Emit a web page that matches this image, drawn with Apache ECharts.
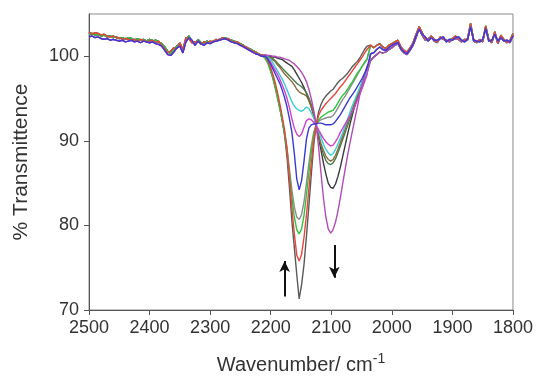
<!DOCTYPE html>
<html>
<head>
<meta charset="utf-8">
<script src="https://cdn.jsdelivr.net/npm/echarts@6.0.0/dist/echarts.min.js"></script>
<style>
  html, body { margin: 0; padding: 0; background: #fff; }
  #chart { width: 536px; height: 381px; }
</style>
</head>
<body>
<div id="chart"></div>
<script>
// wavenumber grids (cm-1)
const leftWn = [2500, 2495, 2490, 2485, 2480, 2475, 2470, 2465, 2460, 2455, 2450, 2445, 2440, 2435, 2430, 2425, 2420, 2415, 2410, 2405,
  2400, 2395, 2390, 2385, 2380, 2375, 2370, 2365, 2360, 2355, 2350, 2345, 2340, 2335, 2330, 2325, 2320, 2315, 2310, 2305,
  2300, 2295, 2290, 2285, 2280, 2275, 2270, 2265, 2260, 2255, 2250, 2245, 2240, 2235, 2230, 2225, 2220, 2215];
const bandWn = [2213, 2209, 2205, 2201, 2197, 2193, 2189, 2185, 2181, 2177, 2173, 2169, 2165, 2161, 2157, 2153, 2149, 2145, 2141, 2137,
  2133, 2129, 2125, 2121, 2117, 2113, 2109, 2105, 2101, 2097, 2093, 2089, 2085, 2081, 2077, 2073, 2069, 2065, 2061, 2057,
  2053, 2049, 2045, 2041];
const rightWn = [2035, 2030, 2025, 2020, 2015, 2010, 2005, 2000, 1995, 1990, 1985, 1980, 1975, 1970, 1965, 1960, 1955, 1950, 1945, 1940,
  1935, 1930, 1925, 1920, 1915, 1910, 1905, 1900, 1895, 1890, 1885, 1880, 1875, 1870, 1865, 1860, 1855, 1850, 1845, 1840,
  1835, 1830, 1825, 1820, 1815, 1810, 1805, 1800];

// baseline (wing) traces, % transmittance
const leftWing1 = [102.6, 102.7, 102.5, 102.6, 102.4, 102.5, 102.3, 102.4, 102.2, 102.3, 102.1, 102.2, 102.0, 102.2, 102.1, 101.9, 102.1, 101.9, 102.0, 101.8,
  102.0, 101.8, 101.9, 101.7, 101.5, 101.1, 100.6, 100.3, 100.8, 101.2, 101.5, 100.6, 101.9, 102.4, 101.8, 101.4, 102.0, 101.6, 101.5, 101.8,
  101.6, 101.8, 101.9, 102.0, 102.1, 102.2, 102.0, 101.9, 101.8, 101.6, 101.5, 101.3, 101.0, 100.9, 100.7, 100.5, 100.3, 100.1];
const leftWing2 = [102.9, 102.6, 102.8, 102.7, 102.5, 102.6, 102.4, 102.3, 102.4, 102.2, 102.2, 102.0, 102.1, 102.0, 101.9, 102.0, 101.8, 102.0, 101.9, 101.7,
  101.8, 101.9, 101.6, 101.8, 101.3, 100.9, 100.4, 100.6, 101.0, 100.9, 101.6, 100.8, 102.2, 102.1, 101.6, 101.7, 101.8, 101.4, 101.7, 101.6,
  101.8, 101.7, 102.0, 101.9, 102.2, 102.0, 102.1, 101.8, 101.7, 101.7, 101.4, 101.2, 101.1, 100.8, 100.6, 100.5, 100.2, 100.2];
const leftWing3 = [102.3, 102.4, 102.2, 102.3, 102.1, 102.0, 102.1, 101.9, 102.0, 101.9, 101.8, 101.9, 101.7, 101.8, 101.9, 101.7, 101.8, 101.6, 101.8, 101.7,
  101.6, 101.7, 101.5, 101.4, 101.2, 100.7, 100.2, 100.1, 100.5, 101.0, 101.2, 100.4, 101.7, 102.2, 101.9, 101.3, 101.8, 101.5, 101.3, 101.6,
  101.5, 101.7, 101.8, 101.9, 102.0, 102.1, 101.9, 101.7, 101.6, 101.5, 101.3, 101.1, 100.9, 100.7, 100.5, 100.3, 100.2, 100.0];
const rightWing1 = [101.3, 101.0, 101.3, 101.5, 101.1, 100.9, 101.3, 101.5, 101.7, 101.9, 101.1, 100.7, 100.5, 101.0, 101.6, 102.6, 103.5, 102.8, 102.1, 101.9,
  102.4, 102.0, 101.7, 102.3, 102.1, 101.8, 101.9, 102.1, 102.4, 102.1, 101.8, 101.9, 102.1, 103.9, 102.0, 101.7, 101.9, 101.8, 103.6, 102.0,
  101.7, 102.9, 101.6, 102.5, 102.0, 101.6, 101.9, 102.7];
const rightWing2 = [100.3, 100.4, 100.8, 101.1, 100.8, 100.7, 101.0, 101.3, 101.5, 101.6, 100.9, 100.5, 100.3, 100.8, 101.4, 102.4, 103.2, 102.6, 102.3, 101.8,
  102.2, 101.9, 101.9, 102.1, 102.3, 101.7, 102.0, 101.9, 102.2, 102.3, 101.9, 101.7, 102.0, 103.5, 101.9, 101.8, 101.7, 102.0, 103.3, 101.8,
  101.9, 102.6, 101.8, 102.2, 101.8, 101.9, 101.7, 102.4];
const rightWing3 = [99.5, 99.9, 100.2, 100.5, 100.4, 100.5, 100.8, 101.0, 101.3, 101.5, 100.8, 100.4, 100.2, 100.7, 101.3, 102.2, 103.3, 102.5, 101.9, 102.1,
  102.3, 101.8, 101.6, 102.2, 102.0, 101.9, 101.7, 102.0, 102.1, 102.0, 101.7, 102.0, 101.9, 103.6, 101.8, 101.6, 102.0, 101.7, 103.4, 101.9,
  101.6, 102.7, 101.5, 102.3, 101.9, 101.8, 101.6, 102.5];

// band region (2213-2041 cm-1), one trace per spectrum
const bandA = [100.2, 99.9, 99.4, 98.6, 97.7, 96.6, 95.4, 94.0, 92.4, 90.6, 88.0, 84.4, 80.5, 77.4, 74.2, 71.3, 73.0, 75.4, 78.7, 82.3,
  86.0, 89.5, 91.9, 93.4, 94.3, 94.9, 95.3, 95.6, 95.9, 96.1, 96.5, 96.9, 97.2, 97.4, 97.7, 98.0, 98.4, 98.8, 99.1, 99.4,
  99.8, 100.3, 100.8, 101.2];
const bandB = [100.3, 100.0, 99.6, 98.9, 98.0, 97.0, 95.8, 94.4, 92.9, 91.2, 89.0, 85.5, 82.0, 79.0, 76.5, 75.8, 76.6, 78.6, 81.2, 84.3,
  87.3, 90.0, 91.9, 93.0, 93.6, 94.0, 94.4, 94.7, 95.0, 95.3, 95.6, 96.0, 96.4, 96.7, 97.1, 97.5, 97.9, 98.3, 98.7, 99.1,
  99.5, 99.9, 100.4, 100.8];
const bandC = [100.1, 99.8, 99.3, 98.5, 97.6, 96.5, 95.2, 93.8, 92.4, 90.8, 88.8, 86.0, 83.3, 81.0, 79.5, 79.0, 79.6, 81.2, 83.6, 86.2,
  88.7, 90.7, 91.9, 92.5, 92.8, 93.0, 93.2, 93.4, 93.5, 93.6, 94.0, 94.5, 95.0, 95.4, 95.7, 96.1, 96.6, 97.0, 97.5, 98.0,
  98.4, 98.8, 99.3, 99.7];
const bandD = [100.0, 99.7, 99.2, 98.4, 97.5, 96.4, 95.1, 93.8, 92.5, 91.0, 89.1, 86.6, 84.2, 82.2, 81.0, 80.7, 81.3, 82.8, 85.0, 87.3,
  89.4, 91.0, 91.9, 92.3, 92.5, 92.6, 92.7, 92.8, 92.8, 93.0, 93.4, 93.9, 94.4, 94.9, 95.3, 95.8, 96.3, 96.8, 97.3, 97.8,
  98.3, 98.8, 99.2, 99.6];
const bandE = [100.2, 100.0, 99.7, 99.2, 98.6, 98.0, 97.4, 96.8, 96.0, 95.1, 94.0, 92.6, 91.0, 88.5, 85.5, 84.2, 85.3, 87.6, 90.2, 91.5,
  91.9, 92.0, 92.0, 92.1, 92.1, 92.0, 91.9, 91.9, 91.9, 92.0, 92.3, 92.7, 93.1, 93.6, 94.1, 94.6, 95.1, 95.5, 95.9, 96.4,
  96.9, 97.4, 98.0, 98.6];
const bandF = [100.1, 100.0, 99.8, 99.4, 98.9, 98.4, 97.9, 97.3, 96.6, 95.9, 95.0, 93.9, 92.6, 91.5, 90.8, 90.5, 90.8, 91.6, 92.4, 92.6,
  92.5, 92.2, 91.8, 91.3, 90.8, 90.3, 89.9, 89.6, 89.4, 89.5, 89.9, 90.4, 91.0, 91.5, 92.0, 92.5, 93.0, 93.5, 94.1, 94.8,
  95.5, 96.2, 97.0, 97.8];
const bandG = [100.2, 100.1, 99.9, 99.7, 99.3, 98.8, 98.3, 97.8, 97.3, 96.7, 96.0, 95.3, 94.6, 94.1, 93.8, 93.6, 93.5, 93.7, 94.0, 93.8,
  93.3, 92.7, 92.0, 91.2, 90.4, 89.6, 89.0, 88.6, 88.3, 88.5, 89.0, 89.6, 90.3, 91.0, 91.8, 92.6, 93.4, 94.2, 94.9, 95.6,
  96.3, 97.0, 97.6, 98.2];
const bandH = [100.1, 100.0, 99.9, 99.8, 99.6, 99.4, 99.0, 98.7, 98.3, 97.9, 97.6, 97.3, 97.0, 96.6, 96.1, 95.8, 95.6, 95.5, 95.3, 94.8,
  94.1, 93.1, 91.9, 90.7, 89.7, 88.9, 88.2, 87.8, 87.6, 87.8, 88.3, 89.0, 89.8, 90.6, 91.4, 92.2, 93.0, 93.8, 94.6, 95.4,
  96.1, 96.8, 97.5, 98.1];
const bandI = [100.2, 100.1, 100.0, 99.9, 99.8, 99.5, 99.2, 98.9, 98.6, 98.3, 98.0, 97.7, 97.4, 97.1, 96.8, 96.6, 96.4, 96.1, 95.7, 95.1,
  94.3, 93.3, 92.0, 90.6, 89.4, 88.4, 87.7, 87.3, 87.2, 87.4, 87.9, 88.6, 89.4, 90.2, 91.0, 91.8, 92.6, 93.4, 94.2, 95.0,
  95.8, 96.6, 97.3, 98.0];
const bandJ = [100.1, 100.1, 100.0, 100.0, 99.9, 99.9, 99.8, 99.7, 99.6, 99.4, 99.2, 99.0, 98.8, 98.4, 97.9, 97.4, 96.9, 96.3, 95.6, 94.8,
  94.0, 93.0, 91.8, 90.4, 88.9, 87.4, 86.1, 85.0, 84.5, 84.4, 84.9, 85.8, 86.9, 88.2, 89.5, 90.8, 92.0, 93.1, 94.2, 95.2,
  96.1, 97.0, 97.8, 98.6];
const bandK = [100.2, 100.2, 100.1, 100.1, 100.0, 100.0, 99.9, 99.9, 99.8, 99.7, 99.6, 99.5, 99.3, 99.1, 98.8, 98.5, 98.1, 97.6, 97.0, 96.1,
  95.0, 93.6, 91.9, 89.3, 86.2, 83.3, 81.0, 79.6, 79.1, 79.5, 80.4, 81.7, 83.3, 85.0, 86.7, 88.3, 89.8, 91.2, 92.6, 94.0,
  95.4, 96.6, 97.8, 98.8];

const yTicks = [70, 80, 90, 100];
const upArrow = [[2177, 71.6], [2177, 75.8]];
const downArrow = [[2095, 77.7], [2095, 73.8]];

// spectra in drawing order: [band, left wing, right wing, colour]
const spectra = [
  [bandJ, leftWing1, rightWing3, '#3a3a3a'],
  [bandI, leftWing2, rightWing3, '#4a7a4a'],
  [bandH, leftWing2, rightWing2, '#8a6a3a'],
  [bandG, leftWing1, rightWing2, '#38cdd5'],
  [bandD, leftWing1, rightWing1, '#8d8d8d'],
  [bandA, leftWing1, rightWing1, '#5a5a5a'],
  [bandK, leftWing3, rightWing3, '#b04cb8'],
  [bandC, leftWing1, rightWing1, '#2fc43a'],
  [bandB, leftWing2, rightWing1, '#e8453c'],
  [bandF, leftWing3, rightWing2, '#d040d0'],
  [bandE, leftWing3, rightWing2, '#3a3ad0']
];

const allWn = leftWn.concat(bandWn, rightWn);

const series = spectra.map(([band, lw, rw, color]) => {
  const ys = lw.concat(band, rw);
  return {
    type: 'line',
    data: allWn.map((x, i) => [x, ys[i]]),
    showSymbol: false,
    lineStyle: { color: color, width: 1.4 },
    itemStyle: { color: color },
    silent: true
  };
});

series.push({
  type: 'line',
  data: [],
  silent: true,
  markLine: {
    silent: true,
    symbol: ['none', 'arrow'],
    symbolSize: [8, 11],
    label: { show: false },
    lineStyle: { color: '#111', width: 2, type: 'solid' },
    data: [
      [{ coord: upArrow[0] }, { coord: upArrow[1] }],
      [{ coord: downArrow[0] }, { coord: downArrow[1] }]
    ]
  }
});

const chart = echarts.init(document.getElementById('chart'));
chart.setOption({
  animation: false,
  backgroundColor: '#fff',
  grid: {
    left: 89, right: 22, top: 14, bottom: 71,
    show: true, borderColor: '#8a8a8a', borderWidth: 1
  },
  xAxis: {
    type: 'value',
    inverse: true,
    min: 1800, max: 2500, interval: 100,
    name: '{a|Wavenumber/ cm}{b|-1}',
    nameLocation: 'middle',
    nameGap: 42,
    nameTextStyle: {
      rich: {
        a: { fontFamily: 'Liberation Sans', fontSize: 20, color: '#333' },
        b: { fontFamily: 'Liberation Sans', fontSize: 14, color: '#333', padding: [0, 0, 12, 0] }
      }
    },
    axisLine: { lineStyle: { color: '#555', width: 1 } },
    axisTick: { inside: false, length: 5, lineStyle: { color: '#555' } },
    axisLabel: {
      fontFamily: 'Liberation Sans', fontSize: 18, color: '#333', margin: 9,
      formatter: v => String(v)
    },
    splitLine: { show: false }
  },
  yAxis: {
    type: 'value',
    min: 70, max: 105,
    name: '% Transmittence',
    nameLocation: 'middle',
    nameGap: 57,
    nameTextStyle: { fontFamily: 'Liberation Sans', fontSize: 21, color: '#333' },
    axisLine: { lineStyle: { color: '#555', width: 1 } },
    axisTick: { inside: false, length: 5, lineStyle: { color: '#555' }, customValues: yTicks },
    axisLabel: { fontFamily: 'Liberation Sans', fontSize: 18, color: '#333', margin: 10, customValues: yTicks },
    splitLine: { show: false }
  },
  series: series
});
</script>
</body>
</html>
